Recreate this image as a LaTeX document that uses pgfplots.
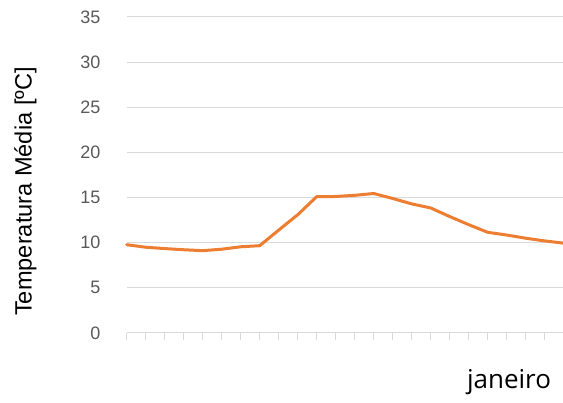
\documentclass[border=0pt]{standalone}
\usepackage{fontspec}
\setmainfont{Liberation Sans}
\newfontfamily\labelfont{Open Sans}
\usepackage{pgfplots}
\pgfplotsset{compat=1.18}
\definecolor{tickgray}{HTML}{595959}
\definecolor{gridgray}{HTML}{D9D9D9}
\definecolor{lineorange}{HTML}{ED7D31}
\begin{document}
\begin{tikzpicture}
\begin{axis}[
  at={(126.7bp,70bp)}, anchor=south west,
  scale only axis, width=437bp, height=316bp,
  xmin=0, xmax=23, ymin=0, ymax=35,
  separate axis lines,
  axis x line*=bottom, axis y line*=left,
  y axis line style={draw=none},
  x axis line style={gridgray, line width=1bp},
  xtick={0,...,23}, xticklabels={},
  ytick={0,5,...,35},
  ytick style={draw=none},
  xtick style={gridgray, line width=1bp},
  tick align=outside, major tick length=7bp,
  ymajorgrids, grid style={gridgray, line width=1bp},
  /pgf/number format/assume math mode=true,
  yticklabel style={font=\fontsize{18bp}{21bp}\selectfont, text=tickgray, inner sep=0pt, xshift=-19bp},
  clip=false,
]
\addplot[lineorange, line width=3bp, line join=round, line cap=round, mark=none] coordinates {
 (0,9.78) (1,9.5) (2,9.35) (3,9.22) (4,9.12) (5,9.28) (6,9.55) (7,9.67)
 (8,11.4) (9,13.1) (10,15.1) (11,15.12) (12,15.25) (13,15.45) (14,14.9)
 (15,14.3) (16,13.85) (17,12.9) (18,12.0) (19,11.15) (20,10.85) (21,10.5)
 (22,10.2) (23,9.95)
};
\end{axis}
\node[rotate=90, anchor=base, inner sep=0pt, font=\fontsize{23.6bp}{28bp}\selectfont] at (31.7bp,211.5bp) {Temperatura Média [ºC]};
\node[anchor=base, inner sep=0pt, font=\labelfont\fontsize{26bp}{30bp}\selectfont] at (509bp,15bp) {janeiro};
\pgfresetboundingbox
\path[use as bounding box] (0,0) rectangle (563bp,403bp);
\end{tikzpicture}
\end{document}
